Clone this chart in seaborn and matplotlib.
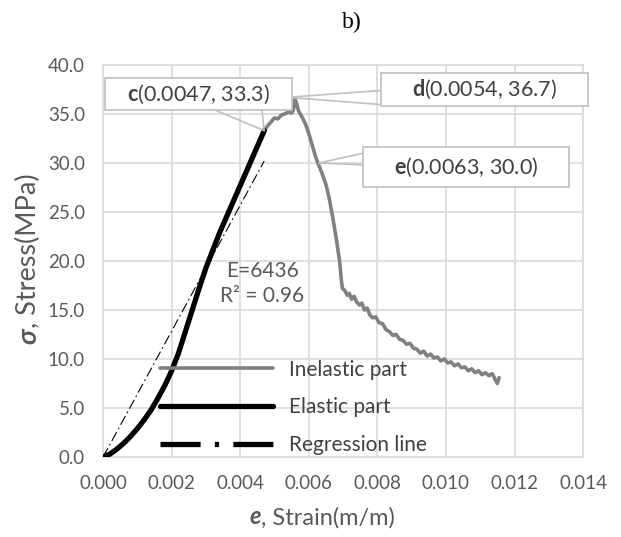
import matplotlib
matplotlib.use("Agg")
import matplotlib.pyplot as plt
import pandas as pd
import seaborn as sns
from matplotlib.lines import Line2D
from matplotlib.patches import Rectangle

sns.set_theme(style="whitegrid")
plt.rcParams["font.family"] = ["Lato", "DejaVu Sans"]
plt.rcParams["mathtext.fontset"] = "custom"
plt.rcParams["mathtext.rm"] = "Lato"
plt.rcParams["mathtext.bf"] = "Lato:bold"

# Data
elastic_strain = [0.0, 0.0002, 0.0004, 0.0006, 0.0008, 0.0010, 0.0012, 0.0014, 0.0016,
                  0.0018, 0.0020, 0.0022, 0.0024, 0.0026, 0.0028, 0.0030, 0.0032, 0.0034,
                  0.0036, 0.0038, 0.0040, 0.0042, 0.0044, 0.0046, 0.0047]
elastic_stress = [0.0, 0.3, 0.8, 1.4, 2.1, 2.9, 3.8, 4.8, 6.0,
                  7.3, 8.8, 10.6, 12.8, 15.0, 17.2, 19.3, 21.1, 22.9,
                  24.5, 26.1, 27.7, 29.3, 30.9, 32.5, 33.3]

inelastic_strain = [0.00470, 0.00480, 0.00490, 0.00500, 0.00510, 0.00520, 0.00530, 0.00540,
                    0.00550, 0.00555, 0.00560, 0.00565, 0.00570, 0.00580, 0.00590, 0.00600,
                    0.00610, 0.00620, 0.00630, 0.00640, 0.00650, 0.00660, 0.00670, 0.00680,
                    0.00690, 0.00695, 0.00698, 0.00705, 0.00712, 0.00718, 0.00725, 0.00732,
                    0.00740, 0.00748, 0.00755, 0.00762, 0.00770, 0.00778, 0.00786, 0.00795,
                    0.00805, 0.00815, 0.00825, 0.00835, 0.00845, 0.00855, 0.00865, 0.00875,
                    0.00885, 0.00895, 0.00905, 0.00915, 0.00925, 0.00935, 0.00945, 0.00955,
                    0.00965, 0.00975, 0.00985, 0.00995, 0.01005, 0.01015, 0.01025, 0.01035,
                    0.01045, 0.01055, 0.01065, 0.01075, 0.01085, 0.01095, 0.01105, 0.01115,
                    0.01125, 0.01135, 0.01145, 0.01150, 0.01155]
inelastic_stress = [33.3, 33.8, 34.2, 34.6, 34.5, 34.9, 35.0, 35.2,
                    35.1, 35.4, 36.5, 36.0, 35.3, 34.7, 34.0, 33.0,
                    31.8, 30.6, 29.7, 28.8, 27.8, 26.3, 24.4, 22.3,
                    19.9, 18.0, 17.2, 17.0, 16.5, 16.7, 16.1, 16.4,
                    15.8, 15.5, 15.7, 15.0, 15.2, 14.5, 14.2, 14.3,
                    13.7, 13.6, 13.0, 12.8, 12.4, 12.5, 12.0, 11.9,
                    11.5, 11.6, 11.1, 11.0, 10.6, 10.8, 10.3, 10.5,
                    10.1, 10.2, 9.8, 10.0, 9.6, 9.7, 9.3, 9.5,
                    9.1, 9.2, 8.8, 9.0, 8.6, 8.8, 8.4, 8.6,
                    8.3, 8.5, 7.8, 7.5, 8.1]

regression_strain = [0.0, 0.0047]
regression_stress = [0.0, 30.2]
modulus_text = "E=6436"
r2_text = "R² = 0.96"

point_names = ["c", "d", "e"]
point_strain = [0.0047, 0.0054, 0.0063]
point_stress = [33.3, 36.7, 30.0]

x_ticks = [0.000, 0.002, 0.004, 0.006, 0.008, 0.010, 0.012, 0.014]
y_ticks = [0.0, 5.0, 10.0, 15.0, 20.0, 25.0, 30.0, 35.0, 40.0]
legend_labels = ["Inelastic part", "Elastic part", "Regression line"]

df_el = pd.DataFrame({"strain": elastic_strain, "stress": elastic_stress})
df_in = pd.DataFrame({"strain": inelastic_strain, "stress": inelastic_stress})
df_reg = pd.DataFrame({"strain": regression_strain, "stress": regression_stress})

GRID = "#d9d9d9"
TXT = "#595959"
GRAY = "#808080"

fig, ax = plt.subplots(figsize=(6.21, 5.37), dpi=100)
fig.subplots_adjust(left=0.166, right=0.939, bottom=0.149, top=0.879)

sns.lineplot(data=df_in, x="strain", y="stress", color=GRAY, lw=2.6, ax=ax,
             sort=False, estimator=None, legend=False, zorder=3)
sns.lineplot(data=df_el, x="strain", y="stress", color="black", lw=3.8, ax=ax,
             sort=False, estimator=None, legend=False, zorder=4)
sns.lineplot(data=df_reg, x="strain", y="stress", color="black", lw=0.8, ax=ax,
             sort=False, estimator=None, legend=False, zorder=5,
             linestyle=(0, (9, 3, 1.5, 3)))

ax.set_xlim(0, 0.014)
ax.set_ylim(0, 40)
ax.set_xticks(x_ticks)
ax.set_xticklabels([f"{v:.3f}" for v in x_ticks])
ax.set_yticks(y_ticks)
ax.set_yticklabels([f"{v:.1f}" for v in y_ticks])
ax.tick_params(axis="both", labelsize=13.5, labelcolor=TXT, length=0)
ax.tick_params(axis="x", pad=13)
ax.tick_params(axis="y", pad=13)
ax.grid(True, color=GRID, lw=1.2)
for s in ax.spines.values():
    s.set_color(GRID)
    s.set_linewidth(1.2)
ax.set_facecolor("white")
ax.set_xlabel("")
ax.set_ylabel("")

# trendline label
ax.text(0.00464, 19.0, modulus_text, ha="center", va="center", fontsize=15, color=TXT)
ax.text(0.00464, 16.4, r2_text, ha="center", va="center", fontsize=15, color=TXT)

# callout boxes (axes fraction) and leader bases
boxes = [(0.004, 0.885, 0.390, 0.082), (0.579, 0.895, 0.431, 0.085), (0.542, 0.689, 0.429, 0.102)]
bases = [[(0.233, 0.885), (0.331, 0.885)],
         [(0.579, 0.935), (0.579, 0.899)],
         [(0.542, 0.775), (0.542, 0.745)]]
for name, px, py, (bx, by, bw, bh), base in zip(point_names, point_strain, point_stress, boxes, bases):
    for fx, fy in base:
        ax.annotate("", xy=(px, py), xytext=(fx, fy), textcoords="axes fraction",
                    arrowprops=dict(arrowstyle="-", color="#bfbfbf", lw=1.2,
                                    shrinkA=0, shrinkB=0), zorder=6, annotation_clip=False)
    ax.add_patch(Rectangle((bx, by), bw, bh, transform=ax.transAxes, facecolor="white",
                           edgecolor="#bfbfbf", lw=1.2, zorder=7, clip_on=False))
    ax.text(bx + bw / 2, by + bh / 2, rf"$\mathbf{{{name}}}$({px:.4f}, {py:.1f})",
            transform=ax.transAxes, ha="center", va="center", fontsize=15.5,
            color="#404040", zorder=8)

# legend
handles = [Line2D([], [], color=GRAY, lw=2.6),
           Line2D([], [], color="black", lw=3.8),
           Line2D([], [], color="black", lw=3.8, linestyle=(0, (7.6, 2.7, 0.8, 2.7)))]
leg = ax.legend(handles, legend_labels, loc="upper left", bbox_to_anchor=(0.119, 0.248),
                frameon=False, fontsize=15, handlelength=5.4, handletextpad=0.8,
                labelspacing=0.85, borderpad=0, borderaxespad=0)
for t in leg.get_texts():
    t.set_color("#404040")

# axis titles with bold italic symbols
xa = fig.text(261 / 621, 1 - 517 / 537, "e", fontsize=17, fontweight="bold", style="italic",
              color=TXT, ha="right", va="center")
ax.annotate(", Strain(m/m)", xy=(1, 0), xycoords=xa, ha="left", va="bottom",
            fontsize=17, color=TXT)
ya = fig.text(28 / 621, 1 - 344 / 537, "σ", fontsize=19.5, fontweight="bold", style="italic",
              color=TXT, ha="center", va="bottom", rotation=90)
ax.annotate(", Stress(MPa)", xy=(0.5, 1), xycoords=ya, ha="center", va="bottom",
            fontsize=19.5, color=TXT, rotation=90)

fig.text(352 / 621, 1 - 22 / 537, "b)", fontsize=17, family="Liberation Serif",
         ha="center", va="center", color="black")

fig.savefig("out.png", dpi=100, facecolor="white")
